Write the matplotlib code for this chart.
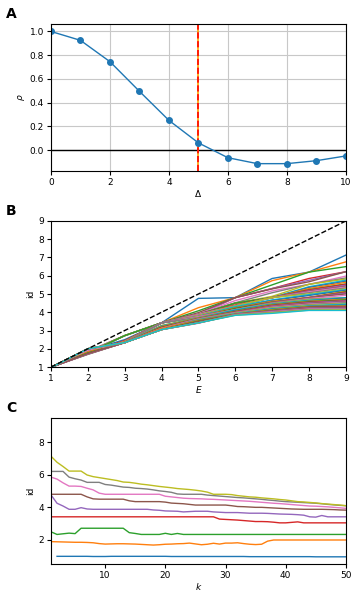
import numpy as np
import matplotlib
matplotlib.use("Agg")
import matplotlib.pyplot as plt

nan = np.nan

# Panel A
delta = [0, 1, 2, 3, 4, 5, 6, 7, 8, 9, 10]
rho = [1.0, 0.925, 0.745, 0.495, 0.25, 0.06, -0.065, -0.115, -0.115, -0.09, -0.05]
delta_opt = 5

# Panel B / C : id[E][k]
E_vals = [1, 2, 3, 4, 5, 6, 7, 8, 9]
k_vals = list(range(1, 51))

id_E1 = [nan, 1.0, 1.0, 1.0, 1.0, 1.0, 1.0, 0.99, 0.99, 0.99,
         1.0, 1.0, 1.0, 1.0, 1.0, 1.0, 1.0, 1.0, 1.0, 1.0,
         0.99, 0.99, 0.99, 0.99, 0.99, 0.99, 0.99, 0.99, 0.99, 0.99,
         0.99, 0.99, 0.99, 0.98, 0.98, 0.98, 0.98, 0.98, 0.98, 0.98,
         0.98, 0.98, 0.98, 0.98, 0.97, 0.97, 0.97, 0.97, 0.97, 0.97]
id_E2 = [1.90, 1.89, 1.88, 1.87, 1.86, 1.86, 1.85, 1.83, 1.78, 1.75,
         1.76, 1.77, 1.77, 1.76, 1.75, 1.73, 1.71, 1.69, 1.71, 1.74,
         1.75, 1.77, 1.78, 1.81, 1.76, 1.71, 1.74, 1.80, 1.75, 1.81,
         1.81, 1.83, 1.78, 1.74, 1.72, 1.74, 1.93, 2.00, 2.00, 2.00,
         2.00, 2.00, 2.00, 2.00, 2.00, 2.00, 2.00, 2.00, 2.00, 2.00]
id_E3 = [2.50, 2.34, 2.38, 2.42, 2.39, 2.72, 2.72, 2.72, 2.72, 2.72,
         2.72, 2.72, 2.72, 2.45, 2.40, 2.34, 2.34, 2.34, 2.34, 2.41,
         2.34, 2.40, 2.34, 2.34, 2.34, 2.34, 2.34, 2.34, 2.34, 2.34,
         2.34, 2.34, 2.34, 2.34, 2.34, 2.34, 2.34, 2.34, 2.34, 2.34,
         2.34, 2.34, 2.34, 2.34, 2.34, 2.34, 2.34, 2.34, 2.34, 2.34]
id_E4 = [3.42, 3.42, 3.42, 3.42, 3.42, 3.42, 3.42, 3.42, 3.42, 3.42,
         3.42, 3.42, 3.42, 3.42, 3.42, 3.42, 3.42, 3.42, 3.42, 3.42,
         3.42, 3.42, 3.42, 3.42, 3.42, 3.42, 3.42, 3.42, 3.28, 3.26,
         3.24, 3.22, 3.19, 3.16, 3.13, 3.13, 3.12, 3.09, 3.05, 3.05,
         3.08, 3.11, 3.05, 3.05, 3.05, 3.05, 3.05, 3.05, 3.05, 3.05]
id_E5 = [4.76, 4.25, 4.08, 3.88, 3.88, 3.98, 3.90, 3.88, 3.88, 3.88,
         3.88, 3.88, 3.88, 3.88, 3.88, 3.88, 3.88, 3.84, 3.82, 3.78,
         3.77, 3.76, 3.72, 3.74, 3.76, 3.76, 3.76, 3.72, 3.70, 3.68,
         3.68, 3.68, 3.66, 3.64, 3.64, 3.64, 3.63, 3.61, 3.59, 3.58,
         3.57, 3.55, 3.52, 3.42, 3.40, 3.50, 3.42, 3.42, 3.42, 3.42]
id_E6 = [4.80, 4.80, 4.80, 4.80, 4.80, 4.80, 4.64, 4.52, 4.50, 4.50,
         4.50, 4.50, 4.50, 4.40, 4.35, 4.35, 4.35, 4.35, 4.35, 4.32,
         4.26, 4.24, 4.22, 4.18, 4.14, 4.14, 4.14, 4.14, 4.14, 4.14,
         4.10, 4.05, 4.04, 4.02, 4.00, 4.00, 3.98, 3.96, 3.94, 3.92,
         3.90, 3.89, 3.88, 3.88, 3.88, 3.88, 3.87, 3.86, 3.84, 3.83]
id_E7 = [5.85, 5.73, 5.50, 5.30, 5.30, 5.28, 5.17, 5.07, 4.87, 4.80,
         4.80, 4.80, 4.80, 4.80, 4.80, 4.80, 4.80, 4.80, 4.80, 4.68,
         4.64, 4.60, 4.56, 4.54, 4.53, 4.52, 4.50, 4.49, 4.47, 4.45,
         4.43, 4.41, 4.39, 4.37, 4.34, 4.31, 4.28, 4.25, 4.23, 4.20,
         4.17, 4.14, 4.11, 4.08, 4.07, 4.05, 4.03, 4.00, 3.97, 3.94]
id_E8 = [6.20, 6.20, 6.20, 5.85, 5.75, 5.67, 5.53, 5.53, 5.53, 5.40,
         5.36, 5.30, 5.24, 5.22, 5.17, 5.15, 5.12, 5.07, 5.01, 4.97,
         4.92, 4.82, 4.80, 4.80, 4.80, 4.80, 4.75, 4.72, 4.69, 4.66,
         4.63, 4.60, 4.58, 4.55, 4.52, 4.49, 4.45, 4.42, 4.38, 4.35,
         4.33, 4.31, 4.29, 4.27, 4.25, 4.22, 4.18, 4.15, 4.12, 4.10]
id_E9 = [7.13, 6.76, 6.50, 6.22, 6.22, 6.22, 5.98, 5.88, 5.82, 5.76,
         5.70, 5.64, 5.55, 5.53, 5.48, 5.42, 5.38, 5.33, 5.28, 5.24,
         5.20, 5.15, 5.12, 5.09, 5.05, 5.00, 4.93, 4.80, 4.80, 4.80,
         4.78, 4.72, 4.68, 4.64, 4.62, 4.58, 4.55, 4.52, 4.48, 4.45,
         4.40, 4.35, 4.33, 4.30, 4.27, 4.23, 4.20, 4.17, 4.14, 4.10]

id_table = np.array([id_E1, id_E2, id_E3, id_E4, id_E5, id_E6, id_E7, id_E8, id_E9])
# B lines start at (1, 1) for E=1
id_table_B = id_table.copy()

plt.rcParams['font.size'] = 6.5
plt.rcParams['axes.linewidth'] = 0.8

fig = plt.figure(figsize=(3.6, 6.0), dpi=100)
L, W = 0.1417, 0.819
axA = fig.add_axes([L, 0.715, W, 0.245])
axB = fig.add_axes([L, 0.3883, W, 0.2434])
axC = fig.add_axes([L, 0.06, W, 0.2433])

# A
axA.grid(True, color='#c8c8c8', linewidth=0.8)
axA.set_axisbelow(True)
axA.axhline(0, color='black', linewidth=1.0)
axA.axvline(delta_opt, color='orange', linewidth=1.2)
axA.axvline(delta_opt, color='red', linestyle='--', linewidth=1.2)
axA.plot(delta, rho, '-o', color='tab:blue', linewidth=1.0, markersize=4)
axA.set_xlim(0, 10)
axA.set_ylim(-0.177, 1.063)
axA.set_yticks([0.0, 0.2, 0.4, 0.6, 0.8, 1.0])
axA.set_xticks([0, 2, 4, 6, 8, 10])
axA.set_xlabel(r'$\Delta$', labelpad=1)
axA.set_ylabel(r'$\rho$', labelpad=2)

# B
for j in range(len(k_vals)):
    axB.plot(E_vals, id_table_B[:, j], linewidth=1.0)
axB.plot(E_vals, E_vals, 'k--', linewidth=1.0)
axB.set_xlim(1, 9)
axB.set_ylim(1, 9)
axB.set_xticks(E_vals)
axB.set_yticks(range(1, 10))
axB.set_xlabel(r'$E$', labelpad=1)
axB.set_ylabel('id', labelpad=2)

# C
for i in range(len(E_vals)):
    axC.plot(k_vals, id_table[i], linewidth=1.0)
axC.set_xlim(1, 50)
axC.set_ylim(0.53, 9.47)
axC.set_xticks([10, 20, 30, 40, 50])
axC.set_yticks([2, 4, 6, 8])
axC.set_xlabel(r'$k$', labelpad=1)
axC.set_ylabel('id', labelpad=2)

for ax in (axA, axB, axC):
    ax.tick_params(length=3, width=0.8, pad=2)

fig.text(0.017, 0.977, 'A', fontsize=10, fontweight='bold', va='center')
fig.text(0.017, 0.648, 'B', fontsize=10, fontweight='bold', va='center')
fig.text(0.017, 0.320, 'C', fontsize=10, fontweight='bold', va='center')

fig.savefig('out.png', dpi=100)
